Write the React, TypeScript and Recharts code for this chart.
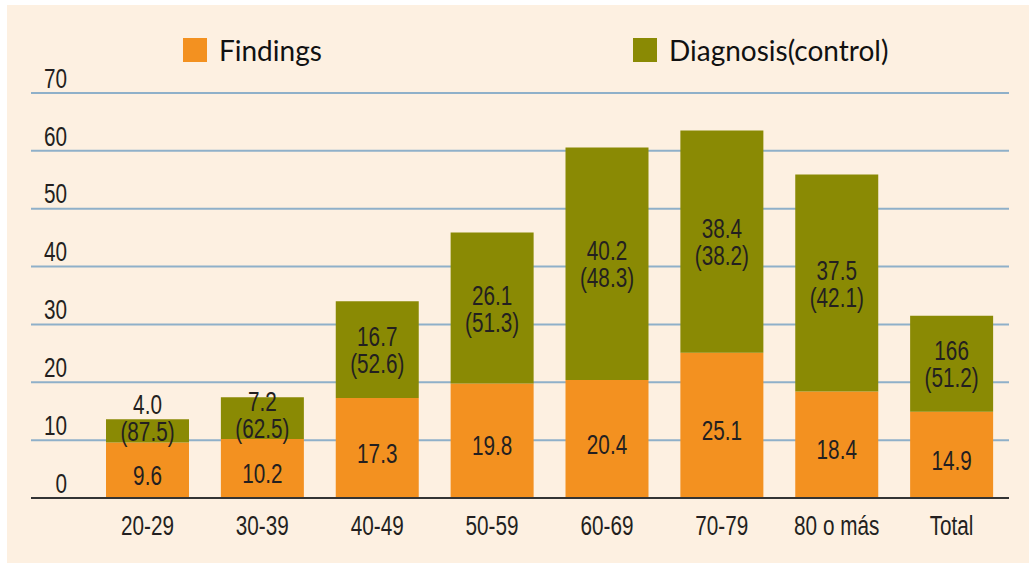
import { Bar, BarChart, CartesianGrid, LabelList, XAxis, YAxis } from "recharts";

const categories = ["20-29", "30-39", "40-49", "50-59", "60-69", "70-79", "80 o más", "Total"];
const findings = [9.6, 10.2, 17.3, 19.8, 20.4, 25.1, 18.4, 14.9];
const diagnosis = [4.0, 7.2, 16.7, 26.1, 40.2, 38.4, 37.5, 16.6];
const diagnosisLabels = ["4.0", "7.2", "16.7", "26.1", "40.2", "38.4", "37.5", "166"];
const diagnosisPct = ["(87.5)", "(62.5)", "(52.6)", "(51.3)", "(48.3)", "(38.2)", "(42.1)", "(51.2)"];
const yTicks = [0, 10, 20, 30, 40, 50, 60, 70];

const data = categories.map((name, i) => ({ name, findings: findings[i], diagnosis: diagnosis[i] }));

const ORANGE = "#f39120";
const OLIVE = "#8a8a04";
const TEXT = "#231f20";
const FONT = "'Liberation Sans', Arial, sans-serif";
const LABEL_SIZE = 28;
const SQUEEZE = 0.74;

// condensed look: the source uses a narrow face we don't have, so squeeze a regular one
function NarrowText({ x, y, anchor = "middle", children }: { x: number; y: number; anchor?: string; children: any }) {
  return (
    <text
      transform={`translate(${x},${y}) scale(${SQUEEZE},1)`}
      textAnchor={anchor}
      dominantBaseline="central"
      fontFamily={FONT}
      fontSize={LABEL_SIZE}
      fill={TEXT}
    >
      {children}
    </text>
  );
}

function FindingsLabel(props: any) {
  const { x, y, width, height, value } = props;
  return <NarrowText x={x + width / 2} y={y + height / 2 + 5}>{value}</NarrowText>;
}

function DiagnosisLabel(props: any) {
  const { x, y, width, height, index } = props;
  const cx = x + width / 2;
  const cy = Math.min(y + height / 2, y + height - 25);
  return (
    <g>
      <NarrowText x={cx} y={cy - 13}>{diagnosisLabels[index]}</NarrowText>
      <NarrowText x={cx} y={cy + 14}>{diagnosisPct[index]}</NarrowText>
    </g>
  );
}

function YTick(props: any) {
  const { y, payload } = props;
  return <NarrowText x={67} y={y - 15} anchor="end">{payload.value}</NarrowText>;
}

function XTick(props: any) {
  const { x, y, payload } = props;
  return <NarrowText x={x} y={y + 19}>{payload.value}</NarrowText>;
}

function LegendItem({ color, label }: { color: string; label: string }) {
  return (
    <div style={{ display: "flex", alignItems: "center" }}>
      <div style={{ width: 24, height: 24, background: color, marginRight: 12 }} />
      <span style={{ fontFamily: "Lato, sans-serif", fontSize: 28, color: "#111" }}>{label}</span>
    </div>
  );
}

export default function App() {
  return (
    <div style={{ position: "absolute", left: 0, top: 0, width: 1029, height: 565, background: "#fff" }}>
      <div style={{ position: "absolute", left: 7, top: 5, width: 1022, height: 558, background: "#fdf0e1" }} />
      <div style={{ position: "absolute", left: 183, top: 33, display: "flex" }}>
        <div style={{ width: 450 }}>
          <LegendItem color={ORANGE} label="Findings" />
        </div>
        <LegendItem color={OLIVE} label="Diagnosis(control)" />
      </div>
      <div style={{ position: "absolute", left: 0, top: 0 }}>
        <BarChart width={1029} height={565} data={data} margin={{ top: 93, right: 20, bottom: 0, left: 0 }} barSize={83}>
          <CartesianGrid stroke="#8fb0c9" strokeWidth={2} vertical={false} />
          <YAxis width={31} domain={[0, 70]} ticks={yTicks} axisLine={false} tickLine={false} tick={<YTick />} />
          <XAxis
            dataKey="name"
            height={67}
            padding={{ left: 59, right: 0 }}
            axisLine={{ stroke: "#333", strokeWidth: 2 }}
            tickLine={false}
            tick={<XTick />}
            interval={0}
          />
          <Bar dataKey="findings" stackId="a" fill={ORANGE} isAnimationActive={false}>
            <LabelList dataKey="findings" content={<FindingsLabel />} />
          </Bar>
          <Bar dataKey="diagnosis" stackId="a" fill={OLIVE} isAnimationActive={false}>
            <LabelList dataKey="diagnosis" content={<DiagnosisLabel />} />
          </Bar>
        </BarChart>
      </div>
    </div>
  );
}
